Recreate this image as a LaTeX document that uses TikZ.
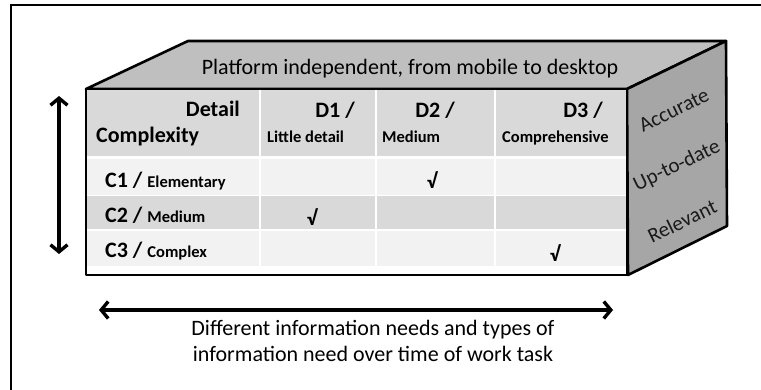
\documentclass[tikz,border=0pt]{standalone}
\usepackage{fontspec}
\setmainfont{Carlito}
\usetikzlibrary{arrows.meta}

\definecolor{topgray}{HTML}{BFBFBF}
\definecolor{sidegray}{HTML}{A6A6A6}
\definecolor{headgray}{HTML}{D9D9D9}
\definecolor{rowlight}{HTML}{F2F2F2}
\definecolor{sidetext}{HTML}{1A1A1A}

\newcommand{\bigf}{\fontsize{22}{26}\selectfont}
\newcommand{\subf}{\fontsize{16.5}{20}\selectfont}

\tikzset{
  edge/.style={draw=black, line width=2.6pt, line join=round},
  hdtxt/.style={font=\bfseries\bigf, inner sep=0pt},
  subtxt/.style={font=\bfseries\subf, inner sep=0pt},
  sidetxt/.style={font=\fontsize{21}{24}\selectfont, text=sidetext, rotate=26, inner sep=0pt},
  tick/.style={font=\bfseries\fontsize{21}{24}\selectfont, inner sep=0pt},
  bothways/.style={line width=3.4pt,
    {Straight Barb[length=7pt,width=17pt,line width=3.4pt]}-{Straight Barb[length=7pt,width=17pt,line width=3.4pt]}}
}

\begin{document}
\begin{tikzpicture}[x=1pt,y=-1pt]
\useasboundingbox (0,0) rectangle (761,390);
\fill[white] (0,0) rectangle (761,390);
\draw[line width=2pt] (11,390) -- (11,5) -- (761,5);

%% the box
\filldraw[fill=topgray,edge] (86,89) -- (188,41) -- (726,41) -- (627,89) -- cycle;
\filldraw[fill=sidegray,edge] (627,89) -- (726,41) -- (727,226) -- (628,275) -- cycle;
\fill[white] (86,89) rectangle (627,275);
\fill[headgray] (86,89) rectangle (627,156);
\fill[rowlight] (86,159.5) rectangle (627,195);
\fill[headgray] (86,196.5) rectangle (627,229.5);
\fill[rowlight] (86,231) rectangle (627,266);
\foreach \cx in {260,376,495}
  \draw[white, line width=1.2pt] (\cx,89) -- (\cx,275);
\draw[edge] (86,89) rectangle (627,275);

%% header
\node[hdtxt, anchor=base east] (detail) at (240,117) {Detail};
\node[hdtxt, anchor=base west] (complexity) at (96,143) {Complexity};
\node[hdtxt, anchor=base east] (d1) at (355,118) {D1 /};
\node[subtxt, anchor=base west] (d1sub) at (267,143) {Little detail};
\node[hdtxt, anchor=base east] (d2) at (455,118) {D2 /};
\node[subtxt, anchor=base west] (d2sub) at (382,143) {Medium};
\node[hdtxt, anchor=base east] (d3) at (603,118) {D3 /};
\node[subtxt, anchor=base west] (d3sub) at (502,143) {Comprehensive};

%% rows
\node[hdtxt, anchor=base west] (c1) at (105,188) {C1 / {\subf Elementary}};
\node[hdtxt, anchor=base west] (c2) at (105,223) {C2 / {\subf Medium}};
\node[hdtxt, anchor=base west] (c3) at (105,258) {C3 / {\subf Complex}};
\node[tick] (t1) at (432,180) {√};
\node[tick] (t2) at (312,217) {√};
\node[tick] (t3) at (555,253) {√};

%% faces
\node[font=\bigf, anchor=base, inner sep=0pt] (platform) at (410,75) {Platform independent, from mobile to desktop};
\node[sidetxt] (accurate) at (674,110) {Accurate};
\node[sidetxt] (uptodate) at (677,166) {Up-to-date};
\node[sidetxt] (relevant) at (682,221) {Relevant};

%% arrows
\coordinate (vtop) at (59,96);
\coordinate (vbot) at (59,254);
\draw[bothways] (vtop) -- (vbot);
\coordinate (hleft) at (99,310);
\coordinate (hright) at (613,310);
\draw[bothways] (hleft) -- (hright);
\node[font=\bigf, anchor=base, inner sep=0pt] (needs1) at (373,335) {Different information needs and types of};
\node[font=\bigf, anchor=base, inner sep=0pt] (needs2) at (373,362) {information need over time of work task};
\end{tikzpicture}
\end{document}
